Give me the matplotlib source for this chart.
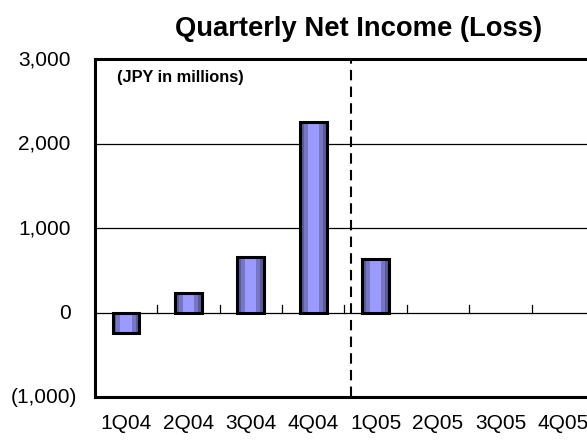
import matplotlib
matplotlib.use("Agg")
import matplotlib.pyplot as plt
import matplotlib.transforms as mtransforms
import numpy as np

plt.rcParams["font.family"] = ["Liberation Sans", "DejaVu Sans"]

quarters = ["1Q04", "2Q04", "3Q04", "4Q04", "1Q05", "2Q05", "3Q05", "4Q05"]
net_income = [-240, 227, 658, 2251, 628, np.nan, np.nan, np.nan]
y_ticks = [-1000, 0, 1000, 2000, 3000]
y_labels = ["(1,000)", "0", "1,000", "2,000", "3,000"]


fig = plt.figure(figsize=(5.87, 4.4), dpi=100)
ax = fig.add_axes([0.1615, 0.0977, 0.8505, 0.768])

x = np.arange(len(quarters))
vals = np.asarray(net_income, dtype=float)
has = ~np.isnan(vals)

# fake cylinder shading: nested bars from dark to light
width = 0.43
shades = [(1.0, "#5a5a96"), (0.72, "#7676c4"), (0.42, "#9a9aff")]
for frac, col in shades:
    ax.bar(x[has], vals[has], width=width * frac, color=col, linewidth=0, zorder=3)
ax.bar(x[has], vals[has], width=width, fill=False, edgecolor="black", linewidth=2.2, zorder=4)

ax.set_xlim(-0.5, len(quarters) - 0.5)
ax.set_ylim(-1000, 3000)

for yv in [1000, 2000]:
    ax.axhline(yv, color="black", linewidth=0.9, zorder=1)
ax.axhline(0, color="black", linewidth=0.9, zorder=2)
# category separator ticks on the zero line
for b in np.arange(0.5, len(quarters) - 0.5, 1.0):
    ax.plot([b, b], [0, 90], color="black", linewidth=0.9, zorder=2)

ax.axvline(3.6, color="black", linewidth=1.5, linestyle=(0, (5, 3)), zorder=5)

ax.set_yticks(y_ticks)
ax.set_yticklabels(y_labels, fontsize=15)
ax.set_xticks(x)
ax.set_xticklabels(quarters, fontsize=15)
ax.tick_params(axis="y", length=0, pad=12.5)
ax.tick_params(axis="x", length=0, pad=12)

# excel-style alignment: positive numbers leave room for the ")"
for lab in ax.get_yticklabels():
    dx = 0 if lab.get_text().startswith("(") else -0.07
    lab.set_transform(lab.get_transform() +
                      mtransforms.ScaledTranslation(dx, 0.015, fig.dpi_scale_trans))

for side in ["left", "top", "bottom"]:
    ax.spines[side].set_linewidth(2.2)
ax.spines["right"].set_visible(False)

ax.text(0.045, 0.945, "(JPY in millions)", transform=ax.transAxes,
        fontsize=11.8, fontweight="bold", va="center", ha="left")

fig.text(0.61, 0.935, "Quarterly Net Income (Loss)", fontsize=19.7,
         fontweight="bold", ha="center", va="center")

fig.savefig("out.png", dpi=100)
